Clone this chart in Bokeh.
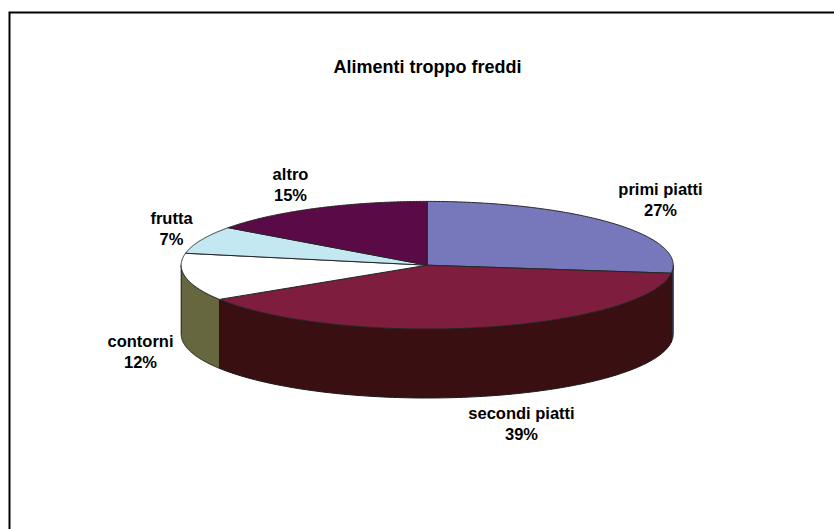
import numpy as np
from bokeh.plotting import figure
from bokeh.models import Range1d, ColumnDataSource
from bokeh.core.properties import value
from bokeh.embed import file_html
from bokeh.resources import INLINE

# --- data
title = "Alimenti troppo freddi"
categories = ["primi piatti", "secondi piatti", "contorni", "frutta", "altro"]
percentages = [27, 39, 12, 7, 15]

# --- style
top_colors = ["#7777BB", "#7F1D3F", "#FFFFFF", "#C4E8F1", "#5A0A46"]
side_colors = ["#3B3B5E", "#3A0F12", "#66663F", "#62747A", "#2D0522"]

# --- layout (page pixels)
W, H = 834, 529
CX, CY, RX, RY, DEPTH = 426.7, 264.7, 246.0, 63.8, 69.0
label_centres = [(660, 188), (521, 412), (140, 340), (171, 217), (290, 173)]
LINE_GAP = 21


def ellipse(theta):
    t = np.radians(theta)
    return CX + RX * np.sin(t), CY - RY * np.cos(t)


p = figure(width=W, height=H, x_range=Range1d(0, W), y_range=Range1d(H, 0),
           output_backend="svg", toolbar_location=None, min_border=0,
           x_axis_type=None, y_axis_type=None, outline_line_color=None)
p.grid.visible = False
p.background_fill_color = "white"
p.border_fill_color = "white"

# frame: only its left and top edges fall inside the picture
p.line(x=[9, 9, W], y=[H, 12, 12], line_color="black", line_width=2, line_join="miter")

edges = np.concatenate([[0.0], np.cumsum(percentages) * 3.6])

# sides: only the part of each slice that faces the viewer (90..270 deg clockwise from top)
side_x, side_y, side_c = [], [], []
for a, b, c in zip(edges[:-1], edges[1:], side_colors):
    lo, hi = max(a, 90.0), min(b, 270.0)
    if hi <= lo:
        continue
    ex, ey = ellipse(np.linspace(lo, hi, 120))
    side_x.append(np.concatenate([ex, ex[::-1]]))
    side_y.append(np.concatenate([ey, ey[::-1] + DEPTH]))
    side_c.append(c)
p.patches(xs="x", ys="y", fill_color="c", line_color="#1a1a1a", line_width=1,
          source=ColumnDataSource(dict(x=side_x, y=side_y, c=side_c)))

# top face
top_x, top_y = [], []
for a, b in zip(edges[:-1], edges[1:]):
    ex, ey = ellipse(np.linspace(a, b, 160))
    top_x.append(np.concatenate([[CX], ex]))
    top_y.append(np.concatenate([[CY], ey]))
p.patches(xs="x", ys="y", fill_color="c", line_color="#262626", line_width=1,
          source=ColumnDataSource(dict(x=top_x, y=top_y, c=top_colors)))

base = dict(text_font=value("Liberation Sans"), text_font_style="bold", text_color="black",
            text_align="center", text_baseline="middle")

p.text(x=[427], y=[66], text=[title], text_font_size="18px", **base)

lx = [c[0] for c in label_centres]
ly = [c[1] for c in label_centres]
p.text(x=lx, y=ly, text=categories, text_font_size="16.5px", **base)
p.text(x=lx, y=[y + LINE_GAP for y in ly], text=[f"{v}%" for v in percentages],
       text_font_size="16.5px", **base)

open("out.html", "w").write(file_html(p, INLINE))
